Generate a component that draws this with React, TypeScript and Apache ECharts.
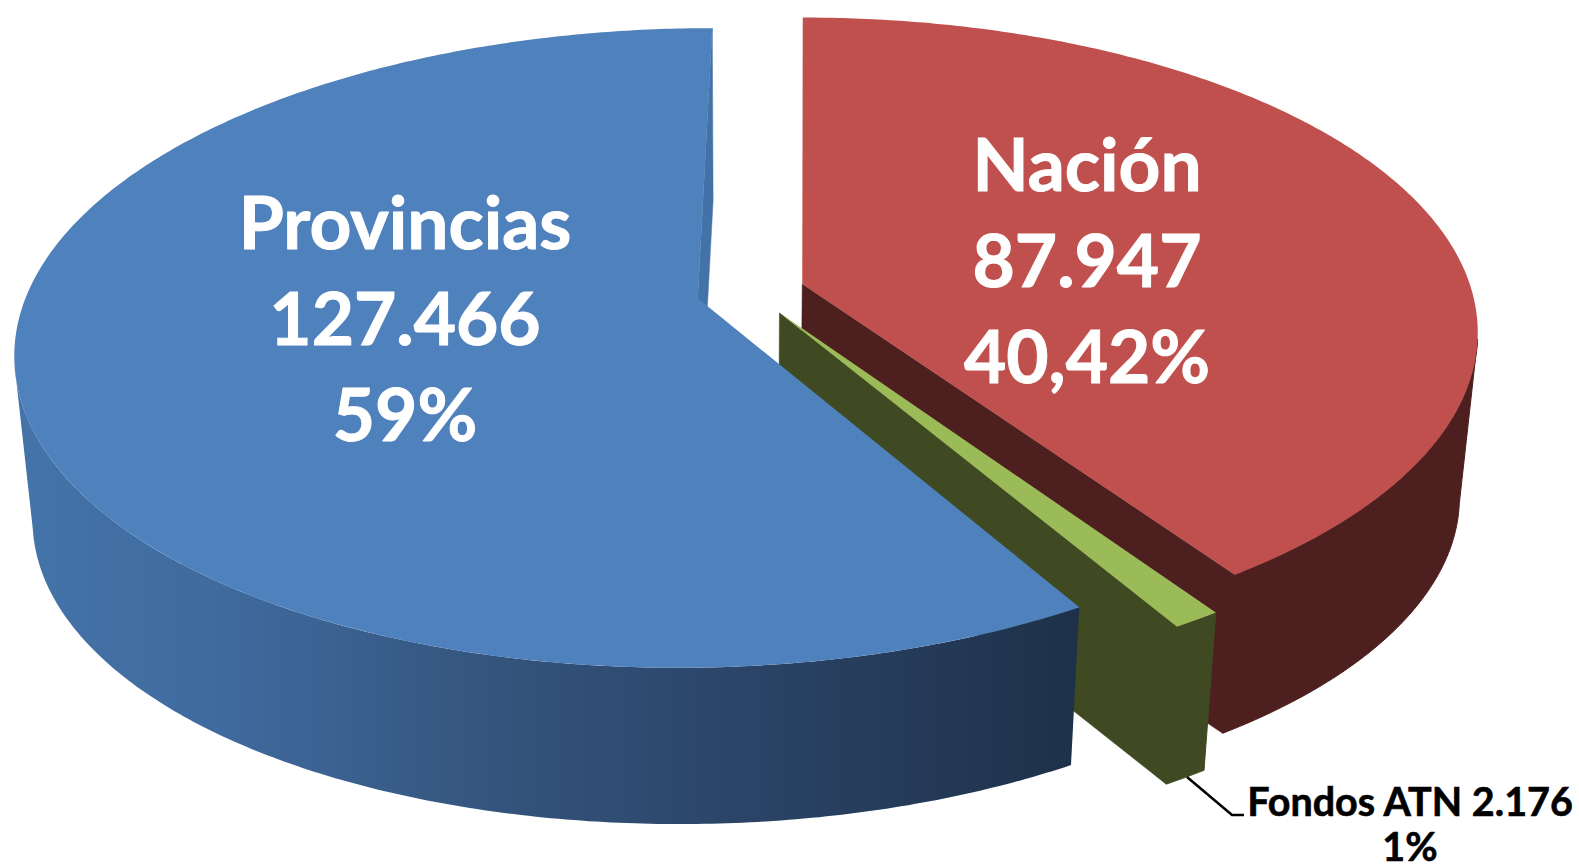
import React, { useEffect, useRef } from "react";
import * as echarts from "echarts";

const categories = ["Nación", "Fondos ATN", "Provincias"];
const amounts = [87947, 2176, 127466];
const amountLabels = ["87.947", "2.176", "127.466"];
const percentLabels = ["40,42%", "1%", "59%"];

const topColors = ["#C0504D", "#9BBB59", "#4F81BD"];
const wallColors = ["#4D1F1F", "#3F4A23", "#1F3350"];
const radialWallColors = ["#4D1F1F", "#3F4A23", "#4272A8"];

// projection of the tilted, exploded pie
const VX = 806, VY = 291.5, AX = 670, BY = 310, PERSP = 0.155, U0 = 0.083, EXPLODE = 0.081;
const BASE_VX = 745, BASE_S = 0.975, BASE_C = 173;
const DEG = Math.PI / 180;

const total = amounts.reduce((a, b) => a + b, 0);

function project(u: number, v: number): number[] {
  const w = 1 + PERSP * v;
  return [VX + (AX * (u - U0)) / w, VY - (BY * v) / w];
}
function base(p: number[]): number[] {
  return [BASE_VX + BASE_S * (p[0] - BASE_VX), BASE_S * p[1] + BASE_C];
}

function renderSlice(params: any, api: any) {
  const i = params.dataIndex;
  const before = amounts.slice(0, i).reduce((a, b) => a + b, 0);
  const value = api.value(0) as number;
  const t0 = (before / total) * Math.PI * 2;
  const t1 = ((before + value) / total) * Math.PI * 2;
  const mid = (t0 + t1) / 2;
  const du = EXPLODE * Math.sin(mid);
  const dv = EXPLODE * Math.cos(mid);
  const rim = (t: number) => project(du + Math.sin(t), dv + Math.cos(t));
  const arc = (a: number, b: number) => {
    const pts: number[][] = [];
    const n = Math.max(2, Math.ceil(Math.abs(b - a) / 0.01));
    for (let k = 0; k <= n; k++) pts.push(rim(a + ((b - a) * k) / n));
    return pts;
  };
  const apex = project(du, dv);
  const children: any[] = [];

  // outer wall, between the silhouette tangents
  const wa = Math.max(t0, 100 * DEG);
  const wb = Math.min(t1, 258 * DEG);
  const topArc = arc(wa, wb);
  const solidWall = i !== 2;
  const wallFill = solidWall
    ? wallColors[i]
    : new echarts.graphic.LinearGradient(0, 0, 1, 0, [
        { offset: 0, color: "#4474AA" },
        { offset: 0.2, color: "#3F6A9E" },
        { offset: 0.43, color: "#35567F" },
        { offset: 0.7, color: "#2A4366" },
        { offset: 1, color: "#1E3149" },
      ]);
  children.push({
    type: "polygon",
    shape: { points: topArc.concat(topArc.map(base).reverse()) },
    style: solidWall
      ? { fill: wallFill, stroke: wallColors[i], lineWidth: 1 }
      : { fill: wallFill },
  });

  // radial wall that faces the viewer
  const edge = rim(t1);
  children.push({
    type: "polygon",
    shape: { points: [apex, edge, base(edge), base(apex)] },
    style: { fill: radialWallColors[i], stroke: radialWallColors[i], lineWidth: 0.5 },
  });

  // top face
  children.push({
    type: "polygon",
    shape: { points: [apex].concat(arc(t0, t1)) },
    style: { fill: topColors[i] },
  });

  return { type: "group", children };
}

const labelFont = "Lato, 'Noto Sans', sans-serif";

export default function App() {
  const ref = useRef<HTMLDivElement>(null);
  useEffect(() => {
    const chart = echarts.init(ref.current!, undefined, { renderer: "svg" });
    chart.setOption({
      animation: false,
      backgroundColor: "#FFFFFF",
      series: [
        {
          type: "custom",
          coordinateSystem: "none",
          renderItem: renderSlice,
          data: categories.map((name, i) => ({ name, value: [amounts[i]] })),
          silent: true,
        },
      ],
      graphic: [
        {
          type: "polyline",
          z: 20,
          shape: { points: [[1187, 777], [1232, 815], [1244, 815]] },
          style: { stroke: "#000000", lineWidth: 2.5, fill: "none" },
        },
        {
          type: "text",
          z: 20,
          x: 1087,
          y: 115,
          style: {
            text: [categories[0], amountLabels[0], percentLabels[0]].join("\n"),
            fill: "#FFFFFF",
            stroke: "#FFFFFF",
            lineWidth: 1,
            lineJoin: "round",
            font: `bold 73px ${labelFont}`,
            lineHeight: 96,
            align: "center",
          },
        },
        {
          type: "text",
          z: 20,
          x: 405,
          y: 173,
          style: {
            text: [categories[2], amountLabels[2], percentLabels[2]].join("\n"),
            fill: "#FFFFFF",
            stroke: "#FFFFFF",
            lineWidth: 1,
            lineJoin: "round",
            font: `bold 73px ${labelFont}`,
            lineHeight: 96,
            align: "center",
          },
        },
        {
          type: "text",
          z: 20,
          x: 1410,
          y: 800,
          style: {
            text: `${categories[1]} ${amountLabels[1]}`,
            fill: "#000000",
            stroke: "#000000",
            lineWidth: 0.6,
            lineJoin: "round",
            font: `bold 39.5px ${labelFont}`,
            lineHeight: 30,
            align: "center",
            verticalAlign: "middle",
          },
        },
        {
          type: "text",
          z: 20,
          x: 1410,
          y: 845,
          style: {
            text: percentLabels[1],
            fill: "#000000",
            stroke: "#000000",
            lineWidth: 0.6,
            lineJoin: "round",
            font: `bold 39.5px ${labelFont}`,
            lineHeight: 30,
            align: "center",
            verticalAlign: "middle",
          },
        },
      ],
    });
    return () => chart.dispose();
  }, []);
  return (
    <div
      ref={ref}
      style={{ position: "absolute", left: 0, top: 0, width: 1579, height: 868 }}
    />
  );
}
